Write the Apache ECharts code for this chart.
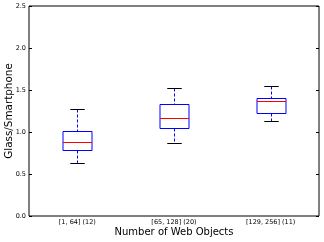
<!DOCTYPE html>
<html><head><meta charset="utf-8">
<script src="https://cdn.jsdelivr.net/npm/echarts@6/dist/echarts.min.js"></script>
<style>html,body{margin:0;padding:0;background:#fff}#c{width:324px;height:242px}</style>
</head><body><div id="c"></div>
<script>
const categories = ['[1, 64] (12)', '[65, 128] (20)', '[129, 256] (11)'];
const lowerWhisker = [0.635, 0.865, 1.13];
const q1 = [0.786, 1.048, 1.23];
const median = [0.88, 1.163, 1.365];
const q3 = [1.015, 1.33, 1.41];
const upperWhisker = [1.277, 1.52, 1.55];
const yMin = 0, yMax = 2.5, yStep = 0.5;

const data = categories.map((c, i) => [i, lowerWhisker[i], q1[i], median[i], q3[i], upperWhisker[i]]);

function renderItem(params, api) {
  const i = api.value(0);
  const xc = Math.round(api.coord([i, 0])[0]) + 0.5;
  const bw = api.size([1, 0])[0];
  const half = bw * 0.15, cap = bw * 0.075;
  const y = k => Math.round(api.coord([i, api.value(k)])[1]) + 0.5;
  const yLo = y(1), yQ1 = y(2), yMed = y(3), yQ3 = y(4), yHi = y(5);
  const blue = '#0000ff';
  const bx = Math.round(xc - half), bwid = Math.round(half * 2);
  return { type: 'group', children: [
    { type: 'line', shape: { x1: xc, y1: yHi, x2: xc, y2: yQ3 }, style: { stroke: blue, lineWidth: 1, lineDash: [3, 2] } },
    { type: 'line', shape: { x1: xc, y1: yQ1, x2: xc, y2: yLo }, style: { stroke: blue, lineWidth: 1, lineDash: [3, 2] } },
    { type: 'line', shape: { x1: xc - cap, y1: yHi, x2: xc + cap, y2: yHi }, style: { stroke: '#000', lineWidth: 1 } },
    { type: 'line', shape: { x1: xc - cap, y1: yLo, x2: xc + cap, y2: yLo }, style: { stroke: '#000', lineWidth: 1 } },
    { type: 'rect', shape: { x: bx, y: yQ3, width: bwid, height: yQ1 - yQ3 }, style: { fill: 'none', stroke: blue, lineWidth: 1 } },
    { type: 'line', shape: { x1: bx, y1: yMed, x2: bx + bwid, y2: yMed }, style: { stroke: '#ff0000', lineWidth: 1 } }
  ]};
}

const chart = echarts.init(document.getElementById('c'), null, { renderer: 'canvas' });
const font = 'DejaVu Sans';
chart.setOption({
  animation: false,
  grid: { left: 29, right: 5, top: 6, bottom: 26, outerBoundsMode: 'none', containLabel: false,
          show: true, borderColor: '#000', borderWidth: 1, backgroundColor: 'transparent' },
  xAxis: [{
    type: 'category', data: categories, boundaryGap: true,
    name: 'Number of Web Objects', nameLocation: 'middle', nameGap: 11, nameMoveOverlap: false,
    nameTextStyle: { fontFamily: font, fontSize: 10, color: '#000' },
    axisLine: { show: false },
    axisTick: { inside: true, alignWithLabel: true, length: 3, lineStyle: { color: '#000' } },
    axisLabel: { fontFamily: font, fontSize: 6.5, color: '#000', margin: 3 },
    splitLine: { show: false }
  }, {
    type: 'category', data: categories, position: 'top', boundaryGap: true,
    axisLine: { show: false },
    axisTick: { inside: true, alignWithLabel: true, length: 3, lineStyle: { color: '#000' } },
    axisLabel: { show: false }, splitLine: { show: false }
  }],
  yAxis: [{
    type: 'value', min: yMin, max: yMax, interval: yStep,
    name: 'Glass/Smartphone', nameLocation: 'middle', nameGap: 15, nameRotate: 90, nameMoveOverlap: false,
    nameTextStyle: { fontFamily: font, fontSize: 10.4, color: '#000' },
    axisLine: { show: false },
    axisTick: { show: true, inside: true, length: 3, lineStyle: { color: '#000' } },
    axisLabel: { fontFamily: font, fontSize: 6.5, color: '#000', margin: 3, formatter: v => v.toFixed(1) },
    splitLine: { show: false }
  }, {
    type: 'value', min: yMin, max: yMax, interval: yStep, position: 'right',
    axisLine: { show: false },
    axisTick: { show: true, inside: true, length: 3, lineStyle: { color: '#000' } },
    axisLabel: { show: false }, splitLine: { show: false }
  }],
  series: [{
    type: 'custom', renderItem: renderItem, data: data,
    encode: { x: 0, y: [1, 2, 3, 4, 5] }, clip: false
  }]
});
</script></body></html>
